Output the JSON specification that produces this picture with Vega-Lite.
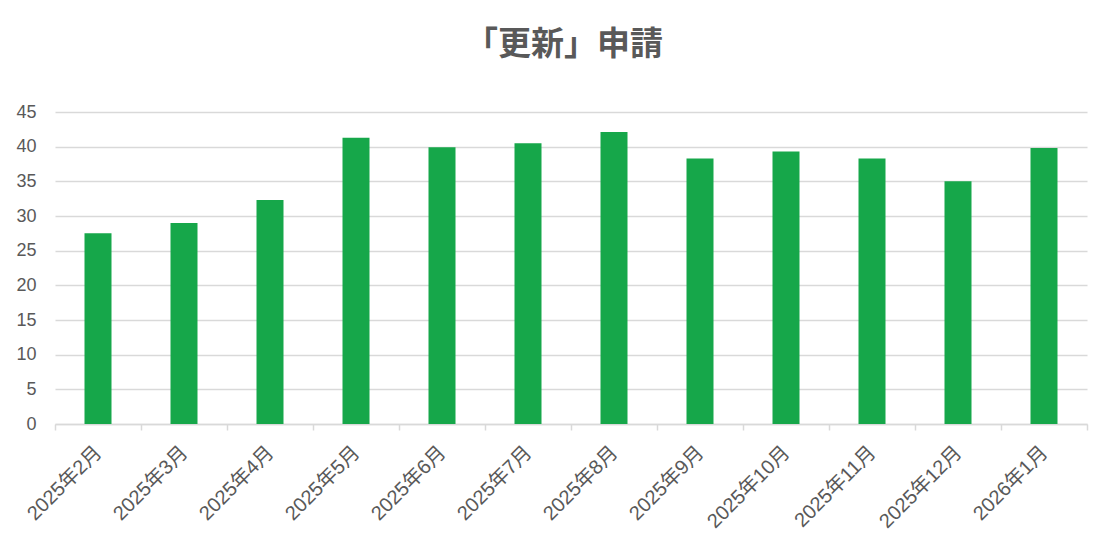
{
  "$schema": "https://vega.github.io/schema/vega-lite/v6.json",
  "width": 1032,
  "height": 312,
  "autosize": {"type": "none"},
  "padding": {"left": 55, "top": 112, "right": 25, "bottom": 131},
  "background": "white",
  "title": {
    "text": "「更新」申請",
    "fontSize": 33,
    "fontWeight": "bold",
    "color": "#595959",
    "font": "Noto Sans CJK JP",
    "anchor": "middle",
    "offset": 41,
    "dx": -7
  },
  "data": {
    "values": [
      {"month": "2025年2月", "value": 27.5},
      {"month": "2025年3月", "value": 29.0},
      {"month": "2025年4月", "value": 32.3},
      {"month": "2025年5月", "value": 41.3},
      {"month": "2025年6月", "value": 39.9},
      {"month": "2025年7月", "value": 40.5},
      {"month": "2025年8月", "value": 42.1},
      {"month": "2025年9月", "value": 38.3},
      {"month": "2025年10月", "value": 39.3},
      {"month": "2025年11月", "value": 38.3},
      {"month": "2025年12月", "value": 35.0},
      {"month": "2026年1月", "value": 39.8}
    ]
  },
  "config": {
    "view": {"stroke": null},
    "font": "Liberation Sans, Noto Sans CJK JP"
  },
  "mark": {"type": "bar", "color": "#16a74a", "width": {"band": 0.314}},
  "encoding": {
    "x": {
      "field": "month",
      "type": "nominal",
      "sort": null,
      "scale": {"paddingInner": 0, "paddingOuter": 0},
      "axis": {
        "title": null,
        "labelAngle": -45,
        "labelAlign": "right",
        "labelBaseline": "top",
        "labelFontSize": 20,
        "labelColor": "#595959",
        "labelFont": "Liberation Sans, Noto Sans CJK JP",
        "labelPadding": 12,
        "labelOffset": -7,
        "domainColor": "#d9d9d9",
        "domainWidth": 1.5,
        "tickColor": "#d9d9d9",
        "tickWidth": 1.5,
        "tickSize": 6,
        "tickBand": "extent",
        "grid": false
      }
    },
    "y": {
      "field": "value",
      "type": "quantitative",
      "scale": {"domain": [0, 45]},
      "axis": {
        "title": null,
        "values": [0, 5, 10, 15, 20, 25, 30, 35, 40, 45],
        "labelFontSize": 18,
        "labelColor": "#595959",
        "labelPadding": 19,
        "domain": false,
        "ticks": false,
        "gridColor": "#d9d9d9",
        "gridWidth": 1.5
      }
    }
  }
}
